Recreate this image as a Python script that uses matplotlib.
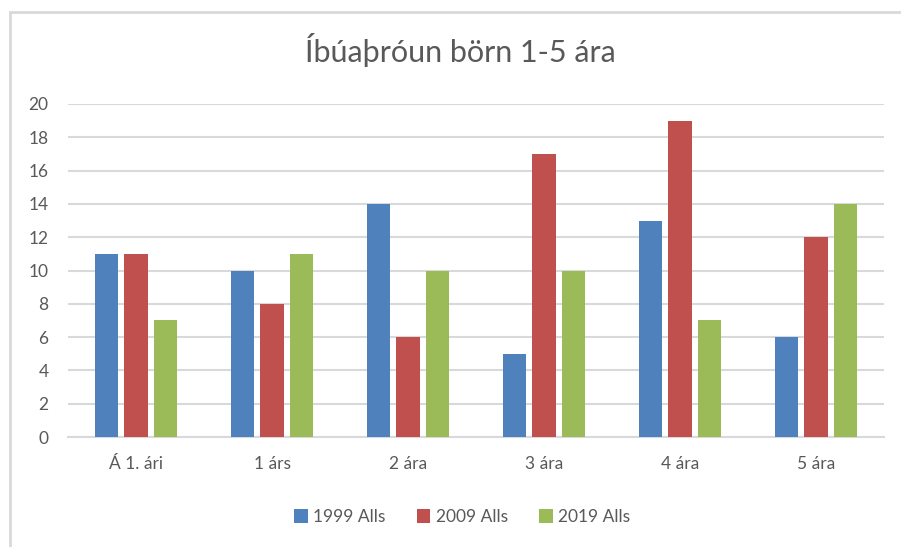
import matplotlib
matplotlib.use("Agg")
import matplotlib.pyplot as plt
import numpy as np
from matplotlib.patches import Rectangle

categories = ["Á 1. ári", "1 árs", "2 ára", "3 ára", "4 ára", "5 ára"]
series_names = ["1999 Alls", "2009 Alls", "2019 Alls"]
s1999 = [11, 10, 14, 5, 13, 6]
s2009 = [11, 8, 6, 17, 19, 12]
s2019 = [7, 11, 10, 10, 7, 14]
colors = ["#4f81bd", "#c0504d", "#9bbb59"]
yticks = [0, 2, 4, 6, 8, 10, 12, 14, 16, 18, 20]

plt.rcParams['font.family'] = ['Lato', 'DejaVu Sans']
text_color = "#595959"

fig = plt.figure(figsize=(9.01, 5.47), dpi=100)
W, H = 901, 547
ax = fig.add_axes([68 / W, 1 - 437 / H, (884 - 68) / W, (437 - 104) / H])

x = np.arange(len(categories))
bw = 0.17
step = 0.22
for i, (vals, c, name) in enumerate(zip([s1999, s2009, s2019], colors, series_names)):
    ax.bar(x + (i - 1) * step, vals, width=bw, color=c, label=name, zorder=3)

ax.set_xlim(-0.5, len(categories) - 0.5)
ax.set_ylim(0, 20)
ax.set_yticks(yticks)
ax.set_xticks(x)
ax.set_xticklabels(categories)
ax.grid(axis='y', color="#d9d9d9", linewidth=1.5, zorder=0)
for s in ["top", "right", "left"]:
    ax.spines[s].set_visible(False)
ax.spines["bottom"].set_color("#d9d9d9")
ax.spines["bottom"].set_linewidth(1.5)
ax.tick_params(axis='both', length=0, labelsize=12.5, colors=text_color)
ax.tick_params(axis='x', pad=14)
ax.tick_params(axis='y', pad=14)

fig.text(460 / W, 1 - 50 / H, "Íbúaþróun börn 1-5 ára", ha='center', va='center',
         fontsize=22, color=text_color)

leg = fig.legend(loc='center', bbox_to_anchor=(462 / W, 1 - 517 / H), ncol=3,
                 frameon=False, fontsize=12.5, handlelength=0.8, handleheight=0.8,
                 handletextpad=0.3, columnspacing=1.8)
for t in leg.get_texts():
    t.set_color(text_color)

border = Rectangle((9.5 / W, -0.1), 1.2, 1.1 - 11.5 / H, transform=fig.transFigure,
                   fill=False, edgecolor="#d9d9d9", linewidth=2, clip_on=False)
fig.patches.append(border)

fig.savefig("out.png", dpi=100)
